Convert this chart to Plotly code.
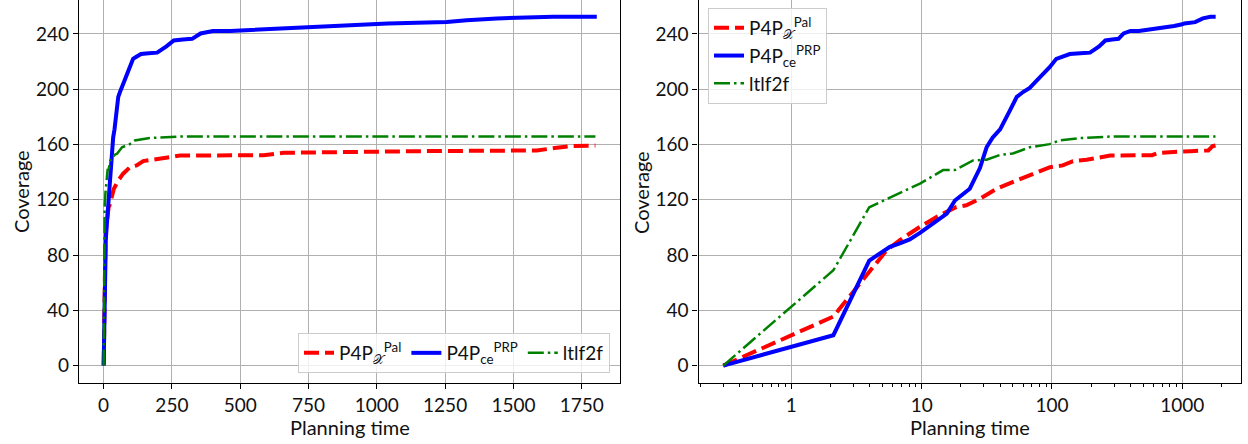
import plotly.graph_objects as go
from plotly.subplots import make_subplots

# ---- data ----
pal_time = [0.3, 2.1, 5.4, 6.8, 9.7, 13, 18.5, 22, 28, 37.7, 53.7, 71.6, 96.6, 121, 145, 184, 232, 280, 586, 660, 1160, 1585, 1658, 1707, 1800]
pal_cov = [0, 35.5, 83.6, 90.8, 100.4, 107.6, 114.8, 116, 120.8, 128, 134, 138.9, 143.6, 144.9, 148, 149, 150.8, 152, 152.3, 154, 155.2, 155.7, 157.6, 158.8, 159.3]

prp_time = [0.3, 2.1, 3.96, 5.7, 6.8, 8.1, 9.7, 11.6, 13.5, 15.6, 18.0, 20.5, 23.4, 28, 31.5, 35, 40, 47.5, 53.7, 60, 67.5, 76, 86, 96, 108, 120, 137, 165, 196, 230, 257, 290, 324, 355, 400, 464, 598, 720, 866, 1000, 1040, 1256, 1329, 1439, 1646, 1805]
prp_cov = [0, 22, 76, 86, 88.5, 91.3, 96, 101.5, 105.5, 110, 119.5, 124, 128, 143, 158, 165, 171, 184.5, 194.5, 198, 201, 206, 211, 216, 222, 223.5, 225.5, 226, 226.5, 231, 235.3, 236, 236.5, 240.4, 242.2, 242.2, 243.4, 244.6, 245.8, 247, 247.6, 248.6, 250, 251.3, 252.4, 252.4]

ltl_time = [0.3, 2.1, 3.96, 6.8, 9.7, 14.6, 18.0, 24.8, 31.5, 40, 50, 67.5, 96, 114, 163, 280, 1800]
ltl_cov = [0, 69, 114.6, 125, 131.7, 141.5, 141.5, 148.5, 149, 152.5, 153.5, 158, 160.3, 162.9, 164.6, 165.8, 165.8]

series_names = ["P4P<sub>𝒳</sub><sup>Pal</sup>", "P4P<sub>ce</sub><sup>PRP</sup>", "ltlf2f"]

lin_ticks = [0, 250, 500, 750, 1000, 1250, 1500, 1750]
y_ticks = [0, 40, 80, 120, 160, 200, 240]
log_ticks = [1, 10, 100, 1000]
log_tick_text = ["1", "10", "100", "1000"]
log_minor = [m * 10 ** e for e in range(-1, 4) for m in range(2, 10)]

x_title = "Planning time"
y_title = "Coverage"

FONT = "Lato"
TXT = "#111"
W, H = 1248, 444
PLOT_H = 383

fig = make_subplots(rows=1, cols=2)

styles = [
    dict(color="#ff0000", width=4, dash="15px,6px"),
    dict(color="#0000ff", width=4, dash="solid"),
    dict(color="#008000", width=2.5, dash="16px,4px,2.5px,4px"),
]
data = [(pal_time, pal_cov), (prp_time, prp_cov), (ltl_time, ltl_cov)]

for col, leg in [(1, "legend"), (2, "legend2")]:
    for (t, c), name, st in zip(data, series_names, styles):
        fig.add_trace(go.Scatter(x=t, y=c, mode="lines", name=name, line=st,
                                 legend=leg, showlegend=True), row=1, col=col)

axis_common = dict(showline=True, linecolor="black", linewidth=1.2,
                   ticks="outside", ticklen=5, tickcolor="black", tickwidth=1,
                   showgrid=True, gridcolor="#b0b0b0", gridwidth=1, zeroline=False,
                   automargin=False,
                   tickfont=dict(family=FONT, size=19, color=TXT))

fig.update_xaxes(mirror=False, **axis_common)
fig.update_yaxes(mirror=True, **axis_common)

fig.update_xaxes(domain=[79 / W, 620 / W], range=[-90, 1890], tickvals=lin_ticks,
                 row=1, col=1)
fig.update_xaxes(type="log", domain=[698.5 / W, 1241 / W], range=[-0.713, 3.451],
                 tickvals=log_ticks, ticktext=log_tick_text,
                 minor=dict(ticks="outside", ticklen=3, tickcolor="black", tickvals=log_minor, showgrid=False),
                 row=1, col=2)
fig.update_yaxes(range=[-12.6, 264.6], tickvals=y_ticks, domain=[0, 1], row=1, col=1)
fig.update_yaxes(range=[-12.6, 264.6], tickvals=y_ticks, domain=[0, 1], row=1, col=2)

title_font = dict(family=FONT, size=20, color=TXT)
annotations = []
for cx in [(79 + 620) / 2, (698.5 + 1241) / 2]:
    annotations.append(dict(text=x_title, xref="paper", yref="paper", x=cx / W,
                            y=-(427 - PLOT_H) / PLOT_H, xanchor="center", yanchor="middle",
                            showarrow=False, font=title_font))
for cx in [21, 641]:
    annotations.append(dict(text=y_title, xref="paper", yref="paper", x=cx / W,
                            y=(PLOT_H - 192) / PLOT_H, xanchor="center", yanchor="middle",
                            textangle=-90, showarrow=False, font=title_font))

legend_common = dict(bgcolor="rgba(255,255,255,0.8)", bordercolor="#cccccc", borderwidth=1,
                     font=dict(family=FONT, size=19, color=TXT))
fig.update_layout(
    width=W, height=H,
    margin=dict(l=0, r=0, t=0, b=H - PLOT_H),
    paper_bgcolor="white", plot_bgcolor="white",
    annotations=annotations,
    legend=dict(orientation="h", x=610 / W, xanchor="right", y=10 / PLOT_H, yanchor="bottom",
                **legend_common),
    legend2=dict(orientation="v", x=708 / W, xanchor="left", y=1 - 8 / PLOT_H, yanchor="top",
                 **legend_common),
)

fig.write_html("out.html", config={"displayModeBar": False},
               post_script="document.body.style.margin='0px';document.body.style.overflow='hidden';")
